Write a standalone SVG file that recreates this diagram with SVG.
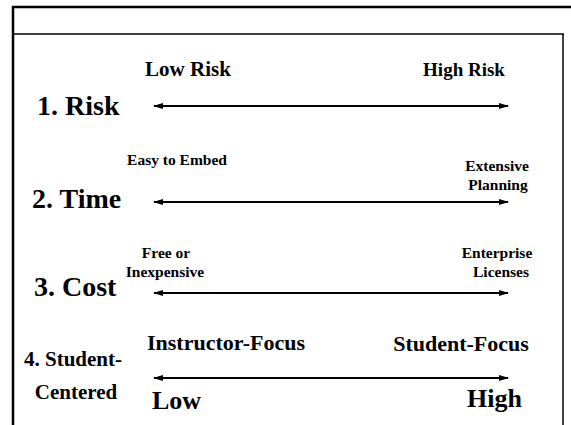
<svg xmlns="http://www.w3.org/2000/svg" width="571" height="425" viewBox="0 0 571 425" font-family="'Liberation Serif', 'DejaVu Serif', serif">
  <style>
    text { font-family: "Liberation Serif", Tinos, "Times New Roman", "DejaVu Serif", "Noto Serif", serif; font-weight: bold; fill: #000; }
    .frame { stroke: #000; fill: none; }
    .conn { stroke: #000; stroke-width: 2; fill: none; marker-start: url(#ah); marker-end: url(#ah); }
    .cat { font-size: 28px; }
    .mid { text-anchor: middle; }
  </style>
  <defs>
    <marker id="ah" viewBox="0 0 10 6" refX="9" refY="3" markerWidth="10" markerHeight="6" markerUnits="userSpaceOnUse" orient="auto-start-reverse">
      <path d="M0,0 L10,3 L0,6 Z" fill="#000"/>
    </marker>
  </defs>
  <rect width="571" height="425" fill="#fff"/>
  <g id="frame">
    <line class="frame" x1="12" y1="7" x2="571" y2="7" stroke-width="2.5"/>
    <line class="frame" x1="12" y1="34" x2="564" y2="34" stroke-width="1.5"/>
    <line class="frame" x1="13" y1="6" x2="13" y2="425" stroke-width="2.5"/>
    <line class="frame" x1="563" y1="34" x2="563" y2="425" stroke-width="1.5"/>
  </g>
  <g id="connectors">
    <line class="conn" x1="154" y1="106" x2="508" y2="106"/>
    <line class="conn" x1="154" y1="202" x2="508" y2="202"/>
    <line class="conn" x1="154" y1="293" x2="508" y2="293"/>
    <line class="conn" x1="154" y1="378" x2="508" y2="378"/>
  </g>
  <g id="risk">
    <text class="cat" x="37" y="115">1. Risk</text>
    <text class="mid" x="188" y="76" font-size="21">Low Risk</text>
    <text class="mid" x="464" y="76" font-size="19">High Risk</text>
  </g>
  <g id="time">
    <text class="cat" x="32" y="208">2. Time</text>
    <text class="mid" x="177" y="165" font-size="15.5">Easy to Embed</text>
    <text class="mid" x="497" y="171" font-size="15.5">Extensive</text>
    <text class="mid" x="498" y="190" font-size="15.5">Planning</text>
  </g>
  <g id="cost">
    <text class="cat" x="34" y="296">3. Cost</text>
    <text class="mid" x="166" y="258" font-size="15.5">Free or</text>
    <text class="mid" x="165" y="277" font-size="15.5">Inexpensive</text>
    <text class="mid" x="497" y="258" font-size="15.5">Enterprise</text>
    <text class="mid" x="501" y="277" font-size="15.5">Licenses</text>
  </g>
  <g id="student-centered">
    <text class="mid" x="73" y="366" font-size="21">4. Student-</text>
    <text class="mid" x="76" y="399" font-size="21">Centered</text>
    <text class="mid" x="226" y="350" font-size="22">Instructor-Focus</text>
    <text class="mid" x="461" y="351" font-size="22">Student-Focus</text>
    <text x="152" y="409" font-size="26">Low</text>
    <text x="467" y="407" font-size="26">High</text>
  </g>
</svg>
